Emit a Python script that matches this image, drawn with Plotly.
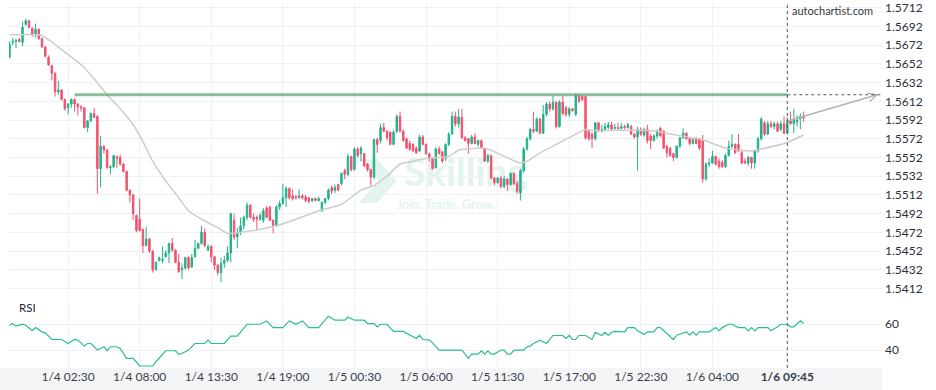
import math
import base64
import pandas as pd
import plotly.graph_objects as go

# ---------------- data ----------------
START = pd.Timestamp("2021-01-03 22:00")
STEP = pd.Timedelta(minutes=15)

open_ = [1.5659,1.5675,1.5676,1.5678,1.5675,1.5694,1.5698,1.5690,1.5683,1.5689,
1.5679,1.5670,1.5659,1.5650,1.5642,1.5622,1.5624,1.5614,1.5605,1.5609,
1.5614,1.5609,1.5606,1.5605,1.5584,1.5591,1.5599,1.5596,1.5540,1.5564,
1.5560,1.5541,1.5542,1.5553,1.5552,1.5545,1.5537,1.5517,1.5512,1.5490,
1.5486,1.5475,1.5458,1.5465,1.5452,1.5432,1.5442,1.5442,1.5446,1.5450,
1.5460,1.5453,1.5440,1.5432,1.5434,1.5445,1.5435,1.5446,1.5455,1.5460,
1.5472,1.5453,1.5457,1.5446,1.5437,1.5429,1.5439,1.5442,1.5450,1.5485,
1.5467,1.5472,1.5479,1.5488,1.5501,1.5488,1.5488,1.5486,1.5485,1.5498,
1.5499,1.5485,1.5479,1.5499,1.5503,1.5509,1.5519,1.5511,1.5510,1.5509,
1.5511,1.5510,1.5509,1.5506,1.5508,1.5506,1.5495,1.5504,1.5508,1.5520,
1.5517,1.5523,1.5524,1.5538,1.5534,1.5553,1.5539,1.5561,1.5556,1.5556,
1.5545,1.5539,1.5531,1.5571,1.5570,1.5584,1.5580,1.5579,1.5566,1.5580,
1.5596,1.5580,1.5572,1.5567,1.5566,1.5562,1.5559,1.5574,1.5566,1.5556,
1.5551,1.5541,1.5561,1.5558,1.5551,1.5566,1.5577,1.5596,1.5588,1.5595,
1.5573,1.5572,1.5567,1.5574,1.5566,1.5570,1.5561,1.5548,1.5554,1.5530,
1.5525,1.5530,1.5521,1.5529,1.5523,1.5535,1.5524,1.5514,1.5538,1.5561,
1.5572,1.5582,1.5580,1.5593,1.5578,1.5598,1.5609,1.5604,1.5611,1.5585,
1.5611,1.5605,1.5598,1.5604,1.5598,1.5618,1.5617,1.5617,1.5580,1.5577,
1.5572,1.5589,1.5580,1.5582,1.5584,1.5587,1.5583,1.5584,1.5583,1.5585,
1.5584,1.5585,1.5577,1.5574,1.5582,1.5576,1.5582,1.5575,1.5570,1.5575,
1.5583,1.5580,1.5564,1.5562,1.5556,1.5552,1.5564,1.5573,1.5578,1.5572,
1.5567,1.5572,1.5572,1.5570,1.5529,1.5545,1.5546,1.5553,1.5548,1.5547,
1.5542,1.5554,1.5564,1.5566,1.5566,1.5557,1.5548,1.5546,1.5552,1.5546,
1.5559,1.5572,1.5589,1.5577,1.5588,1.5585,1.5588,1.5582,1.5588,1.5578,
1.5591,1.5588,1.5590,1.5593,1.5596]

high = [1.5676,1.5680,1.5679,1.5680,1.5697,1.5700,1.5699,1.5691,1.5695,1.5690,
1.5680,1.5671,1.5661,1.5651,1.5643,1.5634,1.5625,1.5615,1.5610,1.5615,
1.5615,1.5610,1.5608,1.5606,1.5592,1.5600,1.5605,1.5597,1.5575,1.5565,
1.5561,1.5544,1.5555,1.5554,1.5555,1.5546,1.5538,1.5518,1.5513,1.5491,
1.5508,1.5476,1.5478,1.5466,1.5453,1.5441,1.5446,1.5457,1.5453,1.5461,
1.5466,1.5454,1.5449,1.5439,1.5446,1.5447,1.5449,1.5464,1.5461,1.5479,
1.5476,1.5459,1.5458,1.5447,1.5438,1.5445,1.5447,1.5457,1.5493,1.5492,
1.5477,1.5488,1.5490,1.5504,1.5502,1.5492,1.5490,1.5493,1.5498,1.5500,
1.5500,1.5486,1.5501,1.5506,1.5524,1.5521,1.5520,1.5518,1.5512,1.5518,
1.5513,1.5512,1.5510,1.5509,1.5509,1.5510,1.5505,1.5509,1.5519,1.5522,
1.5523,1.5524,1.5536,1.5540,1.5556,1.5554,1.5563,1.5563,1.5564,1.5557,
1.5546,1.5540,1.5572,1.5573,1.5588,1.5589,1.5581,1.5580,1.5581,1.5598,
1.5601,1.5582,1.5573,1.5570,1.5567,1.5564,1.5576,1.5576,1.5567,1.5557,
1.5552,1.5563,1.5564,1.5559,1.5567,1.5579,1.5601,1.5601,1.5604,1.5604,
1.5575,1.5573,1.5576,1.5578,1.5571,1.5571,1.5562,1.5556,1.5555,1.5531,
1.5531,1.5532,1.5532,1.5530,1.5536,1.5536,1.5527,1.5540,1.5563,1.5574,
1.5584,1.5601,1.5595,1.5594,1.5608,1.5611,1.5612,1.5618,1.5612,1.5613,
1.5618,1.5607,1.5606,1.5605,1.5620,1.5619,1.5619,1.5619,1.5582,1.5579,
1.5590,1.5590,1.5587,1.5589,1.5590,1.5590,1.5588,1.5589,1.5589,1.5587,
1.5589,1.5587,1.5578,1.5585,1.5584,1.5584,1.5587,1.5577,1.5577,1.5582,
1.5585,1.5581,1.5565,1.5563,1.5557,1.5565,1.5574,1.5583,1.5579,1.5573,
1.5573,1.5574,1.5573,1.5576,1.5547,1.5551,1.5559,1.5554,1.5551,1.5549,
1.5556,1.5570,1.5577,1.5567,1.5577,1.5559,1.5551,1.5554,1.5553,1.5560,
1.5574,1.5595,1.5591,1.5591,1.5591,1.5590,1.5590,1.5591,1.5596,1.5595,
1.5601,1.5604,1.5597,1.5599,1.5601]

low = [1.5658,1.5672,1.5669,1.5675,1.5671,1.5693,1.5690,1.5681,1.5680,1.5678,
1.5669,1.5659,1.5650,1.5634,1.5617,1.5619,1.5613,1.5602,1.5598,1.5605,
1.5601,1.5597,1.5601,1.5583,1.5579,1.5590,1.5594,1.5513,1.5520,1.5556,
1.5540,1.5534,1.5541,1.5541,1.5543,1.5536,1.5516,1.5504,1.5485,1.5472,
1.5473,1.5450,1.5457,1.5450,1.5429,1.5431,1.5441,1.5439,1.5445,1.5439,
1.5451,1.5439,1.5429,1.5422,1.5432,1.5432,1.5434,1.5445,1.5454,1.5459,
1.5456,1.5452,1.5440,1.5432,1.5426,1.5419,1.5434,1.5440,1.5440,1.5464,
1.5455,1.5469,1.5475,1.5485,1.5487,1.5483,1.5474,1.5484,1.5482,1.5487,
1.5484,1.5471,1.5478,1.5496,1.5501,1.5499,1.5507,1.5506,1.5507,1.5508,
1.5507,1.5504,1.5503,1.5504,1.5505,1.5505,1.5494,1.5502,1.5506,1.5513,
1.5514,1.5516,1.5522,1.5529,1.5532,1.5537,1.5538,1.5552,1.5548,1.5542,
1.5537,1.5522,1.5529,1.5557,1.5567,1.5579,1.5570,1.5565,1.5565,1.5578,
1.5579,1.5569,1.5561,1.5559,1.5558,1.5556,1.5558,1.5565,1.5555,1.5548,
1.5539,1.5540,1.5555,1.5546,1.5548,1.5564,1.5576,1.5585,1.5584,1.5572,
1.5569,1.5556,1.5566,1.5566,1.5564,1.5561,1.5547,1.5546,1.5529,1.5522,
1.5524,1.5519,1.5519,1.5516,1.5522,1.5522,1.5513,1.5506,1.5536,1.5559,
1.5570,1.5578,1.5579,1.5577,1.5577,1.5596,1.5601,1.5602,1.5583,1.5584,
1.5597,1.5596,1.5595,1.5601,1.5596,1.5610,1.5612,1.5571,1.5570,1.5562,
1.5570,1.5579,1.5579,1.5580,1.5582,1.5581,1.5582,1.5582,1.5582,1.5582,
1.5583,1.5576,1.5572,1.5538,1.5575,1.5574,1.5567,1.5561,1.5569,1.5572,
1.5574,1.5561,1.5552,1.5553,1.5548,1.5551,1.5562,1.5572,1.5571,1.5565,
1.5566,1.5566,1.5560,1.5525,1.5527,1.5542,1.5545,1.5543,1.5540,1.5541,
1.5541,1.5553,1.5562,1.5556,1.5558,1.5545,1.5545,1.5543,1.5540,1.5540,
1.5557,1.5570,1.5575,1.5576,1.5583,1.5582,1.5579,1.5580,1.5577,1.5577,
1.5587,1.5578,1.5585,1.5582,1.5590]

close = [1.5673,1.5676,1.5677,1.5676,1.5691,1.5698,1.5691,1.5683,1.5689,1.5679,
1.5670,1.5660,1.5651,1.5642,1.5622,1.5624,1.5614,1.5604,1.5609,1.5614,
1.5609,1.5606,1.5605,1.5584,1.5591,1.5599,1.5595,1.5540,1.5564,1.5560,
1.5541,1.5542,1.5554,1.5551,1.5545,1.5537,1.5517,1.5512,1.5492,1.5474,
1.5474,1.5458,1.5465,1.5452,1.5432,1.5440,1.5445,1.5443,1.5450,1.5460,
1.5453,1.5440,1.5430,1.5434,1.5445,1.5434,1.5445,1.5455,1.5460,1.5472,
1.5458,1.5457,1.5446,1.5437,1.5429,1.5439,1.5442,1.5450,1.5492,1.5467,
1.5472,1.5479,1.5488,1.5501,1.5488,1.5486,1.5486,1.5490,1.5495,1.5488,
1.5485,1.5479,1.5499,1.5503,1.5509,1.5519,1.5509,1.5508,1.5509,1.5511,
1.5509,1.5506,1.5505,1.5508,1.5506,1.5508,1.5504,1.5508,1.5517,1.5516,
1.5520,1.5517,1.5535,1.5534,1.5553,1.5539,1.5561,1.5554,1.5562,1.5543,
1.5539,1.5531,1.5571,1.5566,1.5584,1.5580,1.5573,1.5566,1.5579,1.5596,
1.5580,1.5570,1.5562,1.5561,1.5559,1.5557,1.5574,1.5566,1.5556,1.5551,
1.5540,1.5561,1.5556,1.5548,1.5566,1.5577,1.5596,1.5588,1.5595,1.5573,
1.5570,1.5567,1.5574,1.5567,1.5570,1.5562,1.5548,1.5554,1.5530,1.5525,
1.5530,1.5521,1.5529,1.5523,1.5535,1.5524,1.5516,1.5538,1.5561,1.5572,
1.5582,1.5580,1.5593,1.5578,1.5598,1.5609,1.5604,1.5611,1.5585,1.5611,
1.5599,1.5598,1.5604,1.5602,1.5619,1.5612,1.5614,1.5573,1.5572,1.5572,
1.5589,1.5581,1.5582,1.5585,1.5587,1.5582,1.5584,1.5583,1.5585,1.5584,
1.5587,1.5577,1.5574,1.5582,1.5577,1.5582,1.5570,1.5570,1.5575,1.5580,
1.5575,1.5562,1.5557,1.5554,1.5552,1.5564,1.5573,1.5578,1.5572,1.5567,
1.5571,1.5567,1.5562,1.5529,1.5545,1.5546,1.5553,1.5545,1.5542,1.5542,
1.5554,1.5564,1.5566,1.5557,1.5559,1.5546,1.5546,1.5552,1.5546,1.5559,
1.5572,1.5593,1.5577,1.5588,1.5585,1.5588,1.5580,1.5588,1.5578,1.5591,
1.5588,1.5592,1.5592,1.5596,1.5594]

# moving average (read at vertices of the drawn line): candle index, value
ma_idx = [0,9,12,18,22,26,30,34,38,41,44,48,52,55,59,64,67,75,82,88,95,102,108,112,
          116,120,124,128,135,138,145,147,157,159,163,168,173,177,179,194,199,203,
          213,220,228,231,239,244]
ma_val = [1.5683,1.5683,1.5678,1.5662,1.5651,1.5636,1.5619,1.5604,1.5587,1.5569,
          1.5548,1.5527,1.5509,1.5495,1.5486,1.5477,1.5471,1.5474,1.5479,1.5486,
          1.5495,1.5502,1.5517,1.5522,1.5532,1.5545,1.5548,1.5551,1.5553,1.5560,
          1.5562,1.5561,1.5546,1.5548,1.5557,1.5566,1.5575,1.5582,1.5581,1.5581,
          1.5580,1.5577,1.5571,1.5562,1.5559,1.5561,1.5568,1.5576]

# RSI (read at vertices of the drawn line): candle index, value
rsi_idx = [0,1,2,4,5,7,8,10,11,13,16,18,20,21,23,24,25,27,29,30,31,33,34,36,38,40,44,45,
           48,51,52,53,55,57,60,61,62,66,68,70,73,77,79,80,81,84,86,88,90,92,95,96,98,
           100,103,104,106,109,110,112,113,114,116,118,121,125,126,127,129,130,132,139,
           141,142,144,145,146,147,148,149,151,152,153,154,155,158,159,160,161,163,165,
           167,170,171,172,173,174,175,177,179,180,182,183,184,185,186,188,189,190,192,
           193,195,196,198,199,200,202,204,205,208,209,210,211,212,215,217,218,219,221,
           222,224,226,227,228,229,230,233,234,236,237,239,240,241,243,244]
rsi_val = [59.2,60.5,58.5,60.0,59.2,55.0,57.4,54.1,53.3,48.2,48.2,45.1,48.2,47.7,43.1,
           45.1,45.1,40.0,42.6,39.5,42.6,42.6,41.3,33.6,33.6,27.7,27.7,31.0,39.5,39.5,
           36.7,37.4,40.0,45.1,45.1,47.7,45.1,45.1,50.8,50.8,60.0,60.0,62.6,60.0,57.4,
           57.4,62.6,60.0,62.6,57.4,57.4,60.5,66.2,63.1,63.1,65.6,63.1,63.1,60.5,60.5,
           57.9,60.0,60.0,54.4,54.4,49.0,51.5,48.2,47.7,45.6,40.0,40.0,33.6,36.9,36.9,
           39.5,36.9,39.5,36.9,36.9,40.0,40.0,36.9,36.9,40.0,40.0,42.6,43.1,45.1,47.7,
           45.1,51.3,51.3,49.0,51.3,48.2,48.2,51.3,51.3,48.2,53.8,51.3,53.8,51.3,53.8,
           54.4,54.4,54.1,57.4,57.4,54.9,52.1,54.1,54.1,57.4,57.4,52.8,48.2,51.5,54.1,
           51.5,54.1,51.5,54.1,54.1,57.4,54.9,57.4,60.0,60.0,57.4,57.4,54.9,57.4,54.9,
           57.4,57.4,54.9,58.0,60.0,60.0,58.0,58.0,62.6,60.5]

# resistance pattern and projection
resistance_price = 1.5619
resistance_start_idx = 20
pattern_end_idx = 239
proj_start_price = 1.5591
proj_end_idx = 266.6
proj_end_price = 1.5619
hollow_from = 243  # last candles drawn as hollow boxes

tick_idx = [18, 40, 62, 84, 106, 128, 150, 172, 194, 216, 239]
tick_text = ["1/4 02:30", "1/4 08:00", "1/4 13:30", "1/4 19:00", "1/5 00:30",
             "1/5 06:00", "1/5 11:30", "1/5 17:00", "1/5 22:30", "1/6 04:00",
             "<b>1/6 09:45</b>"]
price_ticks = [1.5412, 1.5432, 1.5452, 1.5472, 1.5492, 1.5512, 1.5532, 1.5552,
               1.5572, 1.5592, 1.5612, 1.5632, 1.5652, 1.5672, 1.5692, 1.5712]
rsi_ticks = [40, 60]

# ---------------- layout geometry / styles ----------------
W, H = 936, 390
ML, MR, MT, MB = 9, 54, 0, 22
PW, PH = W - ML - MR, H - MT - MB
MAIN_DOM = [0.1929, 1.0]
RSI_DOM = [0.0, 0.1848]
X_LO, X_HI = -0.154, 268.1
Y_LO, Y_HI = 1.54025, 1.57181
R_LO, R_HI = 26.15, 78.46

GREEN = "#22b28c"
RED = "#f2526d"
GRID = "#eef1f6"
TEXT = "#2b303b"
FONT = "Lato"
WM = "#e2f4ed"


def t(i):
    return START + i * STEP


n = len(close)
times = [t(i) for i in range(n)]

fig = go.Figure()

fig.add_trace(go.Candlestick(
    x=times[:hollow_from], open=open_[:hollow_from], high=high[:hollow_from],
    low=low[:hollow_from], close=close[:hollow_from],
    increasing=dict(line=dict(color=GREEN, width=1), fillcolor=GREEN),
    decreasing=dict(line=dict(color=RED, width=1), fillcolor=RED),
    whiskerwidth=0, hoverinfo="skip", xaxis="x", yaxis="y", showlegend=False))

fig.add_trace(go.Candlestick(
    x=times[hollow_from:], open=open_[hollow_from:], high=high[hollow_from:],
    low=low[hollow_from:], close=close[hollow_from:],
    increasing=dict(line=dict(color=GREEN, width=1), fillcolor="white"),
    decreasing=dict(line=dict(color=RED, width=1), fillcolor="white"),
    whiskerwidth=0, hoverinfo="skip", xaxis="x", yaxis="y", showlegend=False))

# moving average
fig.add_trace(go.Scatter(x=[t(i) for i in ma_idx], y=ma_val, mode="lines",
                         line=dict(color="#cdcdcd", width=1.5, shape="spline", smoothing=0.5),
                         hoverinfo="skip", xaxis="x", yaxis="y", showlegend=False))

# resistance line
fig.add_trace(go.Scatter(x=[t(resistance_start_idx), t(pattern_end_idx)],
                         y=[resistance_price, resistance_price], mode="lines",
                         line=dict(color="rgba(96,170,118,0.75)", width=3),
                         hoverinfo="skip", xaxis="x", yaxis="y", showlegend=False))

# projection arrow (line + open head, computed in pixel space)
main_h = PH * (MAIN_DOM[1] - MAIN_DOM[0])
ppx = PW / (X_HI - X_LO)
ppy = main_h / (Y_HI - Y_LO)
dx = (proj_end_idx - pattern_end_idx) * ppx
dy = (proj_end_price - proj_start_price) * ppy
ang = math.atan2(dy, dx)
barb_len, barb_ang = 10.0, math.radians(26)
bx, by = [], []
for s in (1, -1):
    a = ang + math.pi + s * barb_ang
    bx.append(proj_end_idx + barb_len * math.cos(a) / ppx)
    by.append(proj_end_price + barb_len * math.sin(a) / ppy)
fig.add_trace(go.Scatter(x=[t(pattern_end_idx), t(proj_end_idx)],
                         y=[proj_start_price, proj_end_price], mode="lines",
                         line=dict(color="#b4b4b4", width=1.4),
                         hoverinfo="skip", xaxis="x", yaxis="y", showlegend=False))
fig.add_trace(go.Scatter(x=[t(bx[0]), t(proj_end_idx), t(bx[1])],
                         y=[by[0], proj_end_price, by[1]], mode="lines",
                         line=dict(color="#b4b4b4", width=1.4),
                         hoverinfo="skip", xaxis="x", yaxis="y", showlegend=False))

# RSI
fig.add_trace(go.Scatter(x=[t(i) for i in rsi_idx], y=rsi_val, mode="lines",
                         line=dict(color="#2bbd94", width=1.2),
                         hoverinfo="skip", xaxis="x2", yaxis="y2", showlegend=False))


def px2paper(px, py):
    return (px - ML) / PW, (PH + MT - py) / PH


shapes = []
# x-axis band
shapes.append(dict(type="rect", xref="paper", yref="paper", x0=-ML / PW, x1=1.0,
                   y0=-MB / PH, y1=0, fillcolor="#f4f5f7", line=dict(width=0), layer="below"))
# dashed lines at pattern end
shapes.append(dict(type="line", xref="x", yref="paper", x0=t(pattern_end_idx), x1=t(pattern_end_idx),
                   y0=0, y1=1, line=dict(color="#555a60", width=1, dash="3px,3px")))
shapes.append(dict(type="line", xref="x", yref="y", x0=t(pattern_end_idx), x1=t(X_HI),
                   y0=resistance_price, y1=resistance_price,
                   line=dict(color="#555a60", width=1, dash="3px,3px")))

# watermark (drawn beneath the candles as an SVG layout image)
WM_X0, WM_Y0, WM_W, WM_H = 355, 150, 190, 66
svg = (
    "<svg xmlns='http://www.w3.org/2000/svg' width='%d' height='%d' viewBox='0 0 %d %d'>"
    "<path d='M4 8 L22 8 L42 30 L22 52 L4 52 L24 30 Z' fill='%s'/>"
    "<text x='111' y='35' text-anchor='middle' font-family='Lato' font-weight='bold' "
    "font-size='39' fill='%s'>Skilling</text>"
    "<text x='91' y='58' text-anchor='middle' font-family='Lato' font-weight='bold' "
    "font-size='12.5' fill='%s'>Join. Trade. Grow.</text></svg>"
) % (WM_W, WM_H, WM_W, WM_H, WM, WM, WM)
src = "data:image/svg+xml;base64," + base64.b64encode(svg.encode("utf-8")).decode("ascii")
ix, iy = px2paper(WM_X0, WM_Y0)
images = [dict(source=src, xref="paper", yref="paper", x=ix, y=iy,
               sizex=WM_W / PW, sizey=WM_H / PH, xanchor="left", yanchor="top",
               sizing="stretch", layer="below")]

annotations = []
ax_, ay_ = px2paper(875, 9)
annotations.append(dict(text="autochartist.com", xref="paper", yref="paper", x=ax_, y=ay_,
                        xanchor="right", yanchor="middle", showarrow=False,
                        font=dict(family=FONT, size=11, color="#333840")))
ax_, ay_ = px2paper(17, 307)
annotations.append(dict(text="RSI", xref="paper", yref="paper", x=ax_, y=ay_,
                        xanchor="left", yanchor="middle", showarrow=False,
                        font=dict(family=FONT, size=11.5, color="#1f2430")))

xr = [t(X_LO), t(X_HI)]
tickv = [t(i) for i in tick_idx]

fig.update_layout(
    width=W, height=H, margin=dict(l=ML, r=MR, t=MT, b=MB),
    paper_bgcolor="white", plot_bgcolor="white",
    font=dict(family=FONT, color=TEXT, size=12),
    boxgap=0.4, boxgroupgap=0.25,
    showlegend=False, hovermode=False,
    shapes=shapes, annotations=annotations, images=images,
    xaxis=dict(domain=[0, 1], anchor="y", range=xr, type="date", tickvals=tickv,
               showticklabels=False, showgrid=True, gridcolor=GRID, gridwidth=1,
               zeroline=False, showline=False, ticks="", rangeslider=dict(visible=False)),
    xaxis2=dict(domain=[0, 1], anchor="y2", range=xr, type="date", tickvals=tickv,
                ticktext=tick_text, showticklabels=True, showgrid=True, gridcolor=GRID,
                gridwidth=1, zeroline=False, showline=False, ticks="",
                tickfont=dict(family=FONT, size=12, color="#3a3f4a")),
    yaxis=dict(domain=MAIN_DOM, anchor="x", side="right", range=[Y_LO, Y_HI],
               tickvals=price_ticks, ticktext=["%.4f" % v for v in price_ticks],
               showgrid=True, gridcolor=GRID, zeroline=False, showline=False, ticks="",
               ticklabelstandoff=2, ticklabeloverflow="allow",
               tickfont=dict(family=FONT, size=12, color=TEXT)),
    yaxis2=dict(domain=RSI_DOM, anchor="x2", side="right", range=[R_LO, R_HI],
                tickvals=rsi_ticks, showgrid=True, gridcolor=GRID, zeroline=False,
                showline=False, ticks="", ticklabelstandoff=2,
                tickfont=dict(family=FONT, size=12, color=TEXT)),
)

fig.write_html("out.html")
